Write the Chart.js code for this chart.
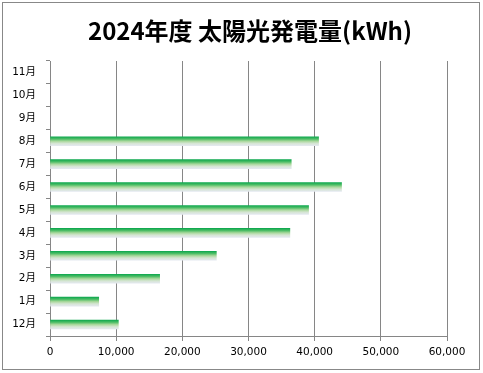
<!DOCTYPE html>
<html>
<head>
<meta charset="utf-8">
<script src="https://cdn.jsdelivr.net/npm/chart.js@4"></script>
<style>
  html, body { margin: 0; padding: 0; background: #fff; }
  #wrap { position: relative; width: 483px; height: 373px; }
  #frame { position: absolute; left: 2px; top: 2px; width: 476px; height: 366px; border: 1px solid #888; pointer-events: none; }
  canvas { position: absolute; left: 0; top: 0; }
</style>
</head>
<body>
<div id="wrap">
  <canvas id="chart" width="483" height="373"></canvas>
  <div id="frame"></div>
</div>
<script>
const titleText = '2024年度 太陽光発電量(kWh)';
const months = ['12月', '1月', '2月', '3月', '4月', '5月', '6月', '7月', '8月', '9月', '10月', '11月'];
const output = [10330, 7360, 16570, 25140, 36250, 39080, 44060, 36460, 40590, null, null, null];
const xTicks = [0, 10000, 20000, 30000, 40000, 50000, 60000];

const tickFont = { family: "'DejaVu Sans', 'Noto Sans CJK JP', sans-serif", size: 10.5 };
const barH = 9;

function barGradient(ctx) {
    const chart = ctx.chart;
    if (!chart.chartArea) return '#10a84f';
    const y = chart.scales.y.getPixelForValue(ctx.dataIndex);
    const g = chart.ctx.createLinearGradient(0, y - barH / 2, 0, y + barH / 2);
    g.addColorStop(0, '#0fa84f');
    g.addColorStop(0.25, '#4dbd66');
    g.addColorStop(0.5, '#a9d89c');
    g.addColorStop(0.75, '#d6e5d4');
    g.addColorStop(1, '#e3e8ef');
    return g;
}

// title drawn centred on the whole box, like the spreadsheet original
const titlePlugin = {
    id: 'boxTitle',
    afterDraw(chart) {
        const c = chart.ctx;
        c.save();
        c.font = "bold 24px 'Noto Sans CJK JP', sans-serif";
        c.fillStyle = '#000';
        c.textAlign = 'center';
        c.textBaseline = 'middle';
        c.fillText(titleText, 250, 31);
        c.restore();
    }
};

new Chart(document.getElementById('chart'), {
    type: 'bar',
    data: {
        labels: months,
        datasets: [{
            data: output,
            backgroundColor: barGradient,
            borderWidth: 0,
            barThickness: barH
        }]
    },
    options: {
        indexAxis: 'y',
        responsive: false,
        animation: false,
        layout: { padding: { left: 0, right: 36, top: 61, bottom: 0 } },
        plugins: {
            legend: { display: false },
            tooltip: { enabled: false },
            title: { display: false }
        },
        scales: {
            x: {
                min: 0,
                max: 60000,
                afterBuildTicks: s => { s.ticks = xTicks.map(v => ({ value: v })); },
                afterFit: s => { s.height = 37; },
                grid: { color: '#868686', lineWidth: 1, tickLength: 5 },
                border: { color: '#868686' },
                ticks: {
                    color: '#000',
                    font: tickFont,
                    padding: 5,
                    maxRotation: 0,
                    callback: v => v.toLocaleString('en-US')
                }
            },
            y: {
                reverse: true,
                afterFit: s => { s.width = 50; },
                grid: { drawOnChartArea: false, offset: true, color: '#868686', tickLength: 4 },
                border: { color: '#868686' },
                ticks: { color: '#000', font: tickFont, padding: 10 }
            }
        }
    },
    plugins: [titlePlugin]
});
</script>
</body>
</html>
